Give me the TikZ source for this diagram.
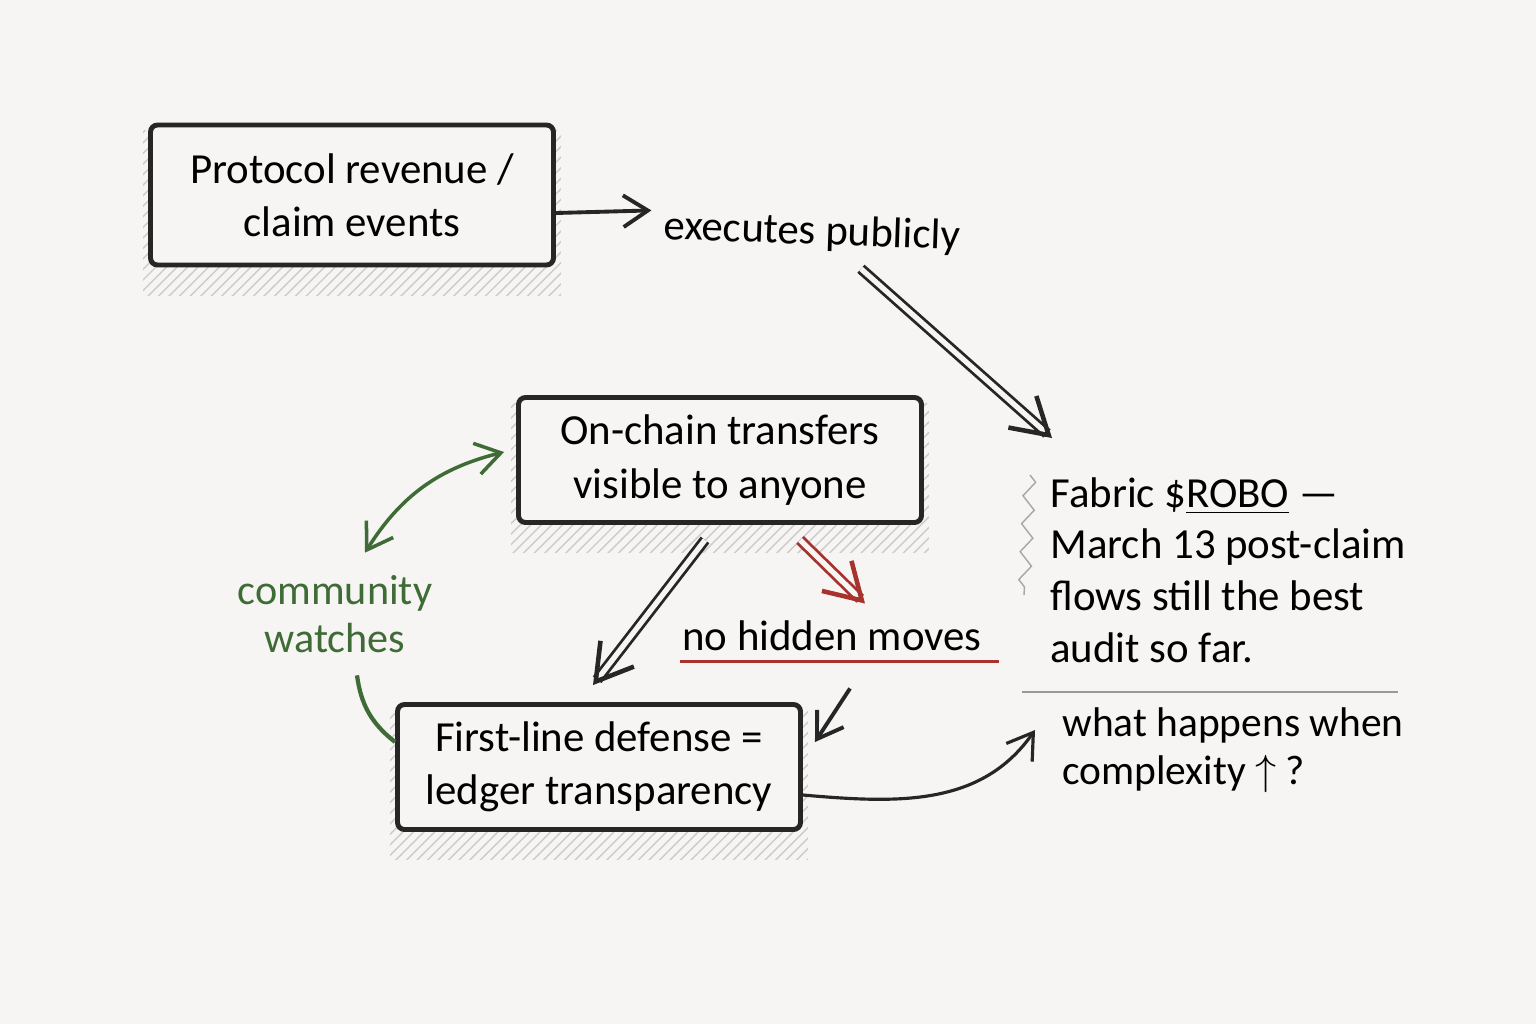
\documentclass[tikz,border=0pt]{standalone}
\usepackage{fontspec}
\setmainfont{Carlito}
\usetikzlibrary{arrows.meta,positioning,calc,patterns,backgrounds,decorations.pathmorphing}
\definecolor{paper}{HTML}{F6F5F3}
\definecolor{inkgreen}{HTML}{3F6B36}
\definecolor{inkred}{HTML}{A8322E}

\begin{document}
\begin{tikzpicture}[every node/.style={font=\fontsize{12.2}{15.2}\selectfont},
  box/.style={draw=black!85, line width=1.4pt, rounded corners=2pt, fill=paper,
    align=center, minimum width=4.03cm, minimum height=1.25cm, inner sep=2pt},
  flow/.style={black!85, line width=0.8pt, double=paper, double distance=1.5pt,
    -{Straight Barb[length=10pt,width=12pt,line width=1.3pt]}},
  thin/.style={black!85, line width=1.1pt, -{Straight Barb[length=7pt,width=9pt]}},
  shade/.style={pattern=north east lines, pattern color=gray!40}]
  % the three boxes
  \node[box, minimum height=1.4cm] (rev) at (3.52,-1.95) {Protocol revenue /\\claim events};
  \node[box] (onchain) at (7.20,-4.60) {On-chain transfers\\visible to anyone};
  \node[box] (defense) at (5.99,-7.67) {First-line defense =\\ledger transparency};

  % loose labels
  \node[rotate=-2] (exec) at (8.12,-2.33) {executes publicly};
  \node (moves) at (8.32,-6.36) {no hidden moves};
  \node[inkgreen, align=center, font=\fontsize{12}{13.8}\selectfont] (comm) at (3.35,-6.14) {community\\watches};
  \node[align=left, anchor=west, font=\fontsize{12.2}{14.7}\selectfont] (note) at (10.38,-5.70)
    {Fabric \$\underline{ROBO} ---\\March 13 post-claim\\flows still the best\\audit so far.};
  \node[align=left, anchor=west, font=\fontsize{11.8}{13.6}\selectfont] (what) at (10.50,-7.50)
    {what happens when\\complexity $\uparrow$ ?};
  \coordinate (hit) at (10.52,-4.38);

  % connectors
  \draw[thin] ($(rev.east)+(0,-0.18)$) -- ($(exec.west)+(0,0.17)$);
  \draw[flow] ($(exec.south)+(0.5,-0.05)$) -- (hit);
  \draw[flow] ($(onchain.south)+(-0.15,-0.15)$) -- ($(defense.north)+(-0.06,0.17)$);
  \draw[flow, inkred] ($(onchain.south)+(0.8,-0.15)$) -- ($(moves.north)+(0.33,0.05)$);
  \draw[thin] ($(moves.south)+(0.18,-0.25)$) -- ($(defense.north east)+(0.12,-0.4)$);
  \draw[thin, line width=0.9pt] ($(defense.east)+(0,-0.28)$) to[out=-5,in=-125] ($(what.west)+(-0.15,0.2)$);
  \draw[inkgreen, line width=1pt, {Straight Barb[length=7pt,width=9pt]}-{Straight Barb[length=7pt,width=9pt]}]
    ($(comm.north)+(0.3,0.1)$) to[bend left=22] ($(onchain.west)+(-0.12,0.08)$);
  \draw[inkgreen, line width=1.2pt] ($(comm.south)+(0.22,-0.1)$) to[bend right=22] ($(defense.west)+(0,0.25)$);
  \draw[inkred, line width=1pt] ($(moves.south west)+(0.1,0.02)$) -- ($(moves.south east)+(0.05,0.02)$);

  % note margin and rule
  \draw[gray!70, line width=0.4pt, decoration={zigzag, segment length=0.28cm, amplitude=0.06cm}, decorate]
    (10.30,-4.75) -- (10.24,-5.95);
  \draw[gray!80, line width=0.7pt] (10.22,-6.92) -- (13.98,-6.92);

  % paper and hatched shadows
  \begin{pgfonlayer}{background}
    \fill[paper] (0,0) rectangle (15.36,-10.24);
    \foreach \b in {rev,onchain,defense}{
      \fill[shade] ($(\b.south west)+(-0.05,-0.28)$) rectangle ($(\b.north east)+(0.05,-0.08)$);
    }
  \end{pgfonlayer}
  \useasboundingbox (0,0) rectangle (15.36,-10.24);
\end{tikzpicture}
\end{document}
